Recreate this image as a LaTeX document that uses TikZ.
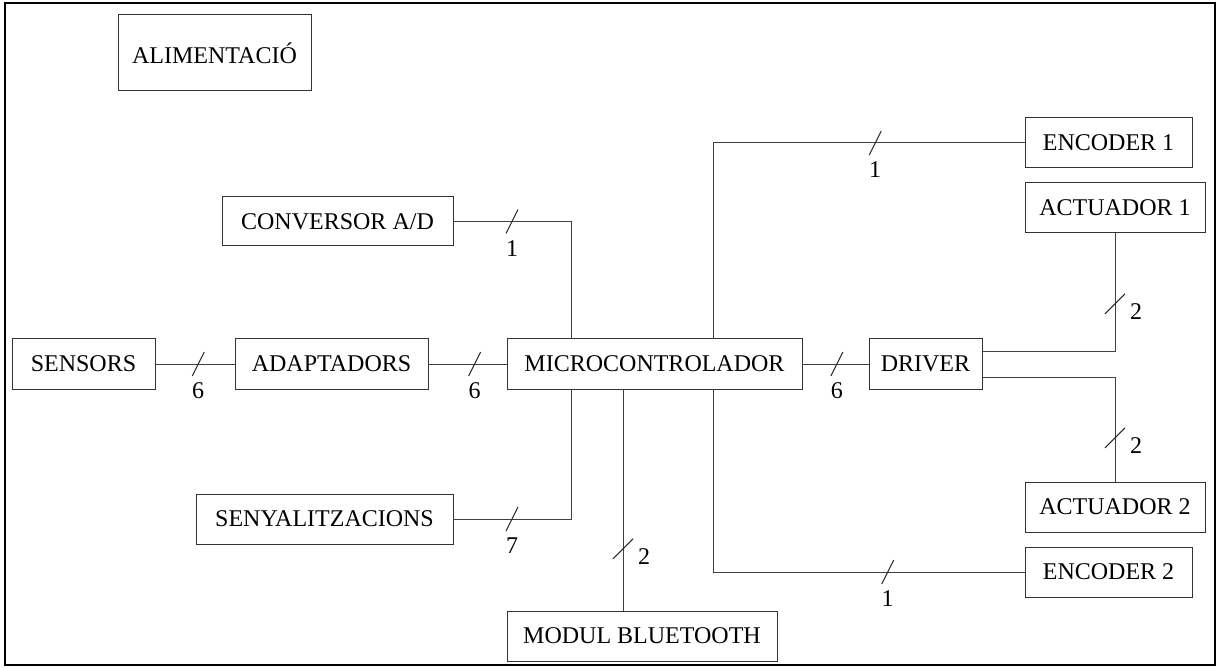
\documentclass[tikz,border=0pt]{standalone}
\usepackage{fontspec}
\setmainfont{Liberation Serif}
\usetikzlibrary{positioning}
\tikzset{
  block/.style={draw=black!80, line width=0.5pt, fill=white, minimum height=25pt, inner sep=0pt, outer sep=0pt, align=center, font=\fontsize{12}{14}\selectfont},
  wire/.style={draw=black!75, line width=0.5pt},
  busmark/.style={draw=black!85, line width=0.5pt},
  buslabel/.style={inner sep=0pt, font=\fontsize{12}{14}\selectfont},
  frame/.style={draw=black, line width=1.3pt}
}
% slash on a horizontal wire, number under it
\newcommand{\hbus}[2]{%
  \draw[busmark] (#1) +(-6,12) -- +(6,-12);
  \path (#1) ++(0,27) node[buslabel] {#2};}
% slash on a vertical wire, number right of it
\newcommand{\vbus}[2]{%
  \draw[busmark] (#1) +(-10,10) -- +(10,-10);
  \path (#1) ++(21,8) node[buslabel] {#2};}

\begin{document}
\begin{tikzpicture}[x=0.5pt, y=-0.5pt]
  \useasboundingbox (0,0) rectangle (1221,668);
  \draw[frame] (5,3) rectangle (1215,665);

  % blocs
  \node[block, minimum width=96.5pt, minimum height=38pt] (alim) at (214.5,53) {ALIMENTACIÓ};
  \node[block, minimum width=115.5pt, minimum height=24.5pt] (conv) at (337.5,221.5) {CONVERSOR A/D};
  \node[block, minimum width=71.5pt] (sensors) at (83.5,364) {SENSORS};
  \node[block, minimum width=96.5pt] (adapt) at (331.5,364) {ADAPTADORS};
  \node[block, minimum width=147.5pt] (micro) at (654.5,364) {MICROCONTROLADOR};
  \node[block, minimum width=56.5pt] (driver) at (925.5,364) {DRIVER};
  \node[block, minimum width=128.5pt] (seny) at (324.5,519) {SENYALITZACIONS};
  \node[block, minimum width=135pt] (blue) at (642,636) {MODUL BLUETOOTH};
  \node[block, minimum width=83.5pt] (enc1) at (1108.5,143) {ENCODER 1};
  \node[block, minimum width=90pt] (act1) at (1115,208) {ACTUADOR 1};
  \node[block, minimum width=90pt] (act2) at (1115,507) {ACTUADOR 2};
  \node[block, minimum width=83.5pt] (enc2) at (1108.5,572) {ENCODER 2};

  % punts de connexio
  \path (micro.north west) ++(64,0) coordinate (mN1)
        (micro.north west) ++(206,0) coordinate (mN2)
        (micro.south west) ++(64,0) coordinate (mS1)
        (micro.south west) ++(116,0) coordinate (mS2)
        (micro.south west) ++(206,0) coordinate (mS3)
        (blue.north west) ++(116,0) coordinate (bN)
        (driver.east) ++(0,-13) coordinate (dE1)
        (driver.east) ++(0,13) coordinate (dE2);

  % connexions
  \draw[wire] (sensors) -- coordinate[pos=0.54] (w1) (adapt);
  \draw[wire] (adapt) -- coordinate[pos=0.59] (w2) (micro);
  \draw[wire] (micro) -- coordinate[pos=0.52] (w3) (driver);
  \draw[wire] (conv.east) -| coordinate[pos=0.25] (w4) (mN1);
  \draw[wire] (seny.east) -| coordinate[pos=0.25] (w5) (mS1);
  \draw[wire] (bN) -- coordinate[pos=0.28] (w6) (mS2);
  \draw[wire] (enc1.west) -| coordinate[pos=0.24] (w7) (mN2);
  \draw[wire] (enc2.west) -| coordinate[pos=0.22] (w8) (mS3);
  \draw[wire] (dE1) -| coordinate[pos=0.70] (w9) (act1);
  \draw[wire] (dE2) -| coordinate[pos=0.79] (w10) (act2);

  % busos
  \hbus{w1}{6}
  \hbus{w2}{6}
  \hbus{w3}{6}
  \hbus{w4}{1}
  \hbus{w5}{7}
  \vbus{w6}{2}
  \hbus{w7}{1}
  \hbus{w8}{1}
  \vbus{w9}{2}
  \vbus{w10}{2}
\end{tikzpicture}
\end{document}
